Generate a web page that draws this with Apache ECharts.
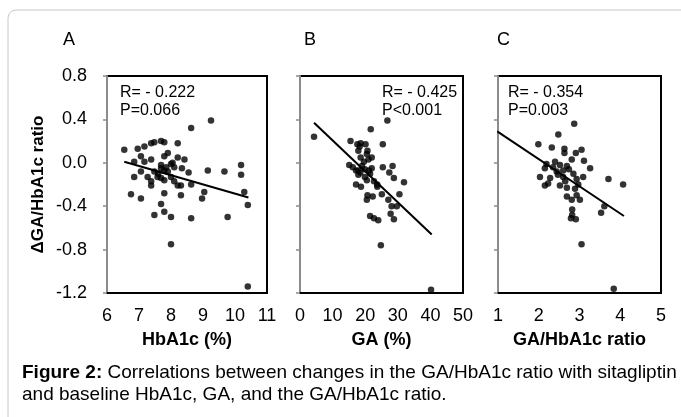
<!DOCTYPE html>
<html><head><meta charset="utf-8">
<script src="https://cdn.jsdelivr.net/npm/echarts@6/dist/echarts.min.js"></script>
<style>html,body{margin:0;padding:0;background:#fff}#c{width:681px;height:417px}</style>
</head><body><div id="c"></div>
<script>
const FONT = 'Liberation Sans, Arial, sans-serif';
const yTicks = [-1.2, -0.8, -0.4, 0.0, 0.4, 0.8];
const xTicksA = [6, 7, 8, 9, 10, 11];
const xTicksB = [0, 10, 20, 30, 40, 50];
const xTicksC = [1, 2, 3, 4, 5];
const panelLabels = ['A', 'B', 'C'];
const xTitles = ['HbA1c (%)', 'GA (%)', 'GA/HbA1c ratio'];
const yTitle = 'ΔGA/HbA1c ratio';
const statsA = ['R= - 0.222', 'P=0.066'];
const statsB = ['R= - 0.425', 'P<0.001'];
const statsC = ['R= - 0.354', 'P=0.003'];
const captionBold = 'Figure 2:';
const captionText1 = ' Correlations between changes in the GA/HbA1c ratio with sitagliptin';
const captionText2 = 'and baseline HbA1c, GA, and the GA/HbA1c ratio.';

const pointsA = [[9.25,0.39],[8.63,0.32],[6.54,0.12],[6.96,0.13],[7.17,0.15],[7.38,0.18],[7.48,0.19],[7.69,0.20],[7.79,0.19],[8.21,0.18],[7.06,0.06],[6.85,0.01],[7.17,0.01],[7.38,0.03],[7.9,0.09],[7.79,0.06],[8.21,0.05],[8.42,0.03],[7.69,-0.02],[8.0,-0.01],[8.1,-0.04],[8.34,-0.05],[8.55,-0.09],[7.79,-0.07],[6.85,-0.13],[7.06,-0.08],[7.27,-0.13],[7.48,-0.08],[7.38,-0.17],[7.38,-0.21],[7.69,-0.14],[7.79,-0.16],[8.0,-0.13],[8.1,-0.17],[8.21,-0.21],[8.31,-0.21],[8.63,-0.2],[9.15,-0.07],[9.67,-0.08],[10.19,-0.02],[10.19,-0.11],[10.29,-0.27],[10.4,-0.39],[9.04,-0.27],[8.97,-0.33],[6.75,-0.29],[7.06,-0.33],[7.79,-0.28],[8.31,-0.3],[7.69,-0.38],[7.48,-0.48],[7.79,-0.45],[8.0,-0.5],[8.63,-0.51],[9.77,-0.5],[8.0,-0.75],[10.4,-1.14],[7.69,-0.05],[7.9,-0.08],[7.58,-0.13],[8.05,0.0],[7.6,-0.1],[7.85,-0.04]];
const pointsB = [[26.8,0.39],[4.3,0.24],[21.7,0.31],[15.5,0.2],[17.6,0.17],[18.6,0.18],[20.1,0.17],[25.4,0.17],[17.9,0.11],[20.7,0.11],[18.6,0.05],[22.0,0.05],[19.6,0.01],[21.0,0.03],[15.1,-0.02],[16.2,-0.04],[25.4,-0.04],[28.4,-0.03],[17.9,-0.07],[19.9,-0.06],[22.0,-0.05],[27.4,-0.09],[17.9,-0.11],[19.9,-0.13],[21.5,-0.1],[28.8,-0.14],[31.9,-0.18],[17.2,-0.2],[18.7,-0.22],[22.7,-0.17],[23.7,-0.22],[25.1,-0.29],[20.7,-0.3],[22.3,-0.31],[20.5,-0.34],[27.1,-0.34],[30.5,-0.29],[28.1,-0.4],[29.7,-0.4],[27.8,-0.47],[28.8,-0.52],[21.5,-0.49],[22.7,-0.51],[24.0,-0.53],[24.8,-0.76],[40.2,-1.17],[17.2,-0.07],[18.5,-0.09],[20.5,-0.16],[23.7,-0.2],[19.0,-0.03],[21.2,-0.07],[18.3,0.15],[20.5,0.08]];
const pointsC = [[2.87,0.36],[2.48,0.26],[1.99,0.17],[2.32,0.14],[2.63,0.13],[3.05,0.12],[2.91,0.09],[2.63,0.09],[2.81,0.03],[3.11,0.02],[2.19,-0.01],[2.4,0.01],[2.52,-0.02],[2.69,-0.03],[3.26,-0.05],[2.15,-0.05],[2.35,-0.04],[2.6,-0.07],[2.74,-0.06],[2.03,-0.13],[2.28,-0.14],[2.47,-0.11],[2.6,-0.13],[2.93,-0.15],[3.09,-0.13],[3.71,-0.15],[4.07,-0.2],[2.15,-0.21],[2.23,-0.19],[2.52,-0.21],[2.69,-0.23],[2.97,-0.2],[2.89,-0.24],[2.69,-0.31],[2.93,-0.3],[3.01,-0.34],[2.81,-0.34],[2.82,-0.43],[3.61,-0.4],[3.53,-0.46],[2.79,-0.51],[2.91,-0.52],[2.82,-0.48],[3.05,-0.75],[3.84,-1.16],[2.44,-0.08],[2.85,-0.1],[2.65,-0.17]];
const trendA = [[6.54,0.01],[10.42,-0.32]];
const trendB = [[4.3,0.37],[40.4,-0.66]];
const trendC = [[0.98,0.29],[4.09,-0.49]];

const grids = [
  {left:107, top:76, width:160, height:217},
  {left:300, top:76, width:163, height:217},
  {left:498, top:76, width:163, height:217}
];
const xTickSets = [xTicksA, xTicksB, xTicksC];
const pts = [pointsA, pointsB, pointsC];
const trends = [trendA, trendB, trendC];

const option = {
  animation:false,
  backgroundColor:'#fff',
  textStyle:{fontFamily:FONT},
  grid: grids.map(g => Object.assign({show:true, borderColor:'#000', borderWidth:2, backgroundColor:'transparent'}, g)),
  xAxis: xTickSets.map((t,i) => ({
    type:'value', gridIndex:i, min:t[0], max:t[t.length-1], interval:t[1]-t[0],
    name:xTitles[i], nameLocation:'middle', nameGap:38,
    nameTextStyle:{fontFamily:FONT, fontSize:18, fontWeight:'bold', color:'#000'},
    axisLine:{show:true, onZero:false, lineStyle:{color:'#000', width:2}},
    axisTick:{show:false}, splitLine:{show:false},
    axisLabel:{fontFamily:FONT, fontSize:18, color:'#000', margin:14}
  })),
  yAxis: [0,1,2].map(i => ({
    type:'value', gridIndex:i, min:yTicks[0], max:yTicks[yTicks.length-1], interval:0.4,
    name: i===0 ? yTitle : '', nameLocation:'middle', nameGap:60, nameRotate:90,
    nameTextStyle:{fontFamily:FONT, fontSize:17, fontWeight:'bold', color:'#000'},
    axisLine:{show:true, onZero:false, lineStyle:{color:'#8c8c8c', width:2}},
    axisTick:{show:true, inside:false, length:4, lineStyle:{color:'#8c8c8c', width:1.5}},
    splitLine:{show:false},
    axisLabel:{show: i===0, fontFamily:FONT, fontSize:18, color:'#000', margin:20,
      formatter: v => (Math.abs(v) < 1e-9 ? '0.0' : v.toFixed(1))}
  })),
  series: [
    ...pts.map((p,i) => ({type:'scatter', xAxisIndex:i, yAxisIndex:i, data:p, symbolSize:6.5,
      itemStyle:{color:'#000'}, z:3})),
    ...trends.map((t,i) => ({type:'line', xAxisIndex:i, yAxisIndex:i, data:t, symbol:'none',
      lineStyle:{color:'#000', width:2}, z:4}))
  ],
  graphic: [
    {type:'rect', shape:{x:8, y:10, width:720, height:440, r:8}, style:{fill:'none', stroke:'#c8c8c8', lineWidth:1}, silent:true, z:-1},
    ...panelLabels.map((t,i) => ({type:'text', left:[63,304,497][i], top:31, style:{text:t, font:'18px '+FONT, fill:'#000'}})),
    {type:'text', left:120, top:84, style:{text:statsA.join('\n'), font:'16px '+FONT, fill:'#000', lineHeight:18}},
    {type:'text', left:382, top:84, style:{text:statsB.join('\n'), font:'16px '+FONT, fill:'#000', lineHeight:18}},
    {type:'text', left:508, top:84, style:{text:statsC.join('\n'), font:'16px '+FONT, fill:'#000', lineHeight:18}},
    {type:'text', left:22, top:362, style:{
      text:'{b|'+captionBold+'}'+captionText1+'\n'+captionText2,
      font:'19px '+FONT, fill:'#000', lineHeight:22,
      rich:{b:{fontWeight:'bold', fontSize:19, fontFamily:FONT}}
    }}
  ]
};
const chart = echarts.init(document.getElementById('c'), null, {renderer:'canvas'});
chart.setOption(option);
</script></body></html>
